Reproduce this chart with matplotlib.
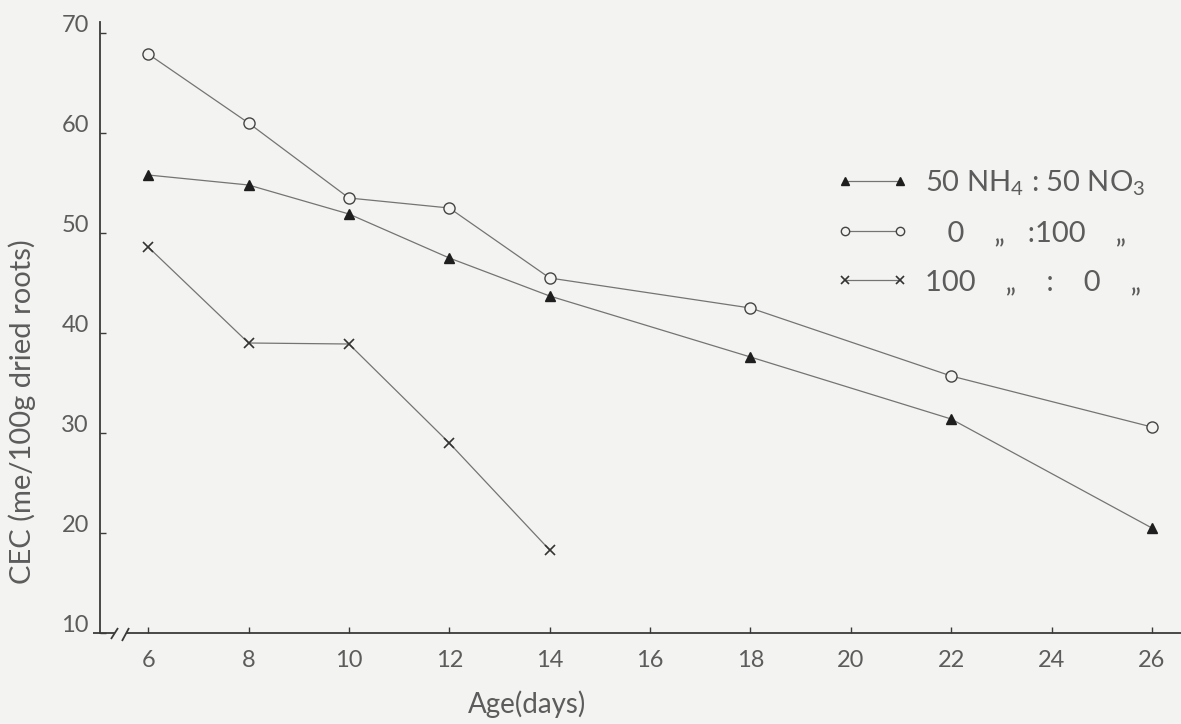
import matplotlib
matplotlib.use('Agg')
import matplotlib.pyplot as plt
import matplotlib.transforms as mtransforms

# ---- data ----
days = [6, 8, 10, 12, 14, 18, 22, 26]
cec_50_50 = [55.8, 54.8, 51.9, 47.5, 43.7, 37.6, 31.4, 20.5]
cec_0_100 = [67.9, 61.0, 53.5, 52.5, 45.5, 42.5, 35.7, 30.6]
days_100_0 = [6, 8, 10, 12, 14]
cec_100_0 = [48.6, 39.0, 38.9, 29.0, 18.3]

x_ticks = [6, 8, 10, 12, 14, 16, 18, 20, 22, 24, 26]
y_ticks = [10, 20, 30, 40, 50, 60, 70]
series_labels = [r"50 NH$_4$ : 50 NO$_3$", "   0    „   :100    „", "100    „    :    0    „"]

# ---- style ----
plt.rcParams['font.family'] = ['Lato', 'DejaVu Sans']
plt.rcParams['font.weight'] = 'normal'
plt.rcParams['mathtext.fontset'] = 'custom'
plt.rcParams['mathtext.rm'] = 'Lato'
plt.rcParams['mathtext.it'] = 'Lato'
plt.rcParams['mathtext.bf'] = 'Lato'

bg = '#f3f3f1'
ink = '#5c5c5c'
axc = '#3a3a3a'
line_c = '#747474'

W, H = 1181, 724
fig = plt.figure(figsize=(W / 100, H / 100), dpi=100, facecolor=bg)
ax = fig.add_axes([100 / W, 91 / H, 1081 / W, 611 / H])
ax.set_facecolor(bg)

ax.set_xlim(5.04, 26.58)
ax.set_ylim(10, 71.1)

l1, = ax.plot(days, cec_50_50, color=line_c, lw=0.9, marker='^', ms=7,
              mfc='#1e1e1e', mec='#1e1e1e', zorder=3)
l2, = ax.plot(days, cec_0_100, color=line_c, lw=0.9, marker='o', ms=8,
              mfc=bg, mec='#444444', mew=1.0, zorder=3)
l3, = ax.plot(days_100_0, cec_100_0, color=line_c, lw=0.9, marker='x', ms=7,
              mec='#333333', mew=1.2, zorder=3)

ax.set_xticks(x_ticks)
ax.set_xticklabels([str(t) for t in x_ticks])
ax.set_yticks(y_ticks)
ax.set_yticklabels([str(t) for t in y_ticks])

for s in ['top', 'right', 'bottom']:
    ax.spines[s].set_visible(False)
ax.spines['left'].set_color(axc)
ax.spines['left'].set_linewidth(1.3)

ax.tick_params(axis='both', direction='in', length=4, width=1, color=axc,
               labelcolor=ink, labelsize=17)
ax.tick_params(axis='x', pad=12)
ax.tick_params(axis='y', pad=8)

off = mtransforms.ScaledTranslation(0, 7 / 72, fig.dpi_scale_trans)
for lab in ax.get_yticklabels():
    lab.set_transform(lab.get_transform() + off)

# x axis line with break marks
def px(xp):
    return (xp - 100) / 1081.0
def py(yp):
    return (633 - yp) / 611.0

kw = dict(transform=ax.transAxes, clip_on=False, color=axc, lw=1.3, solid_capstyle='butt')
ax.plot([px(93), px(115)], [0, 0], **kw)
ax.plot([px(126), 1.0], [0, 0], **kw)
ax.plot([px(111), px(118)], [py(639), py(628)], **kw)
ax.plot([px(122), px(129)], [py(641), py(628)], **kw)

ax.set_xlabel('Age(days)', fontsize=20, color=ink)
ax.xaxis.set_label_coords(px(527), py(690))
ax.set_ylabel('CEC (me/100g dried roots)', fontsize=21, color=ink)
ax.yaxis.set_label_coords(px(36), py(412))

leg = ax.legend([l1, l2, l3], series_labels, loc='upper left',
                bbox_to_anchor=(px(836), py(168)), frameon=False,
                fontsize=21, handlelength=2.5, handletextpad=0.55,
                labelspacing=0.78, borderpad=0, borderaxespad=0,
                labelcolor=ink, numpoints=2)
for h in leg.legend_handles:
    h.set_markersize(6)
    h.set_color(line_c)

fig.savefig('out.png', dpi=100, facecolor=bg)
